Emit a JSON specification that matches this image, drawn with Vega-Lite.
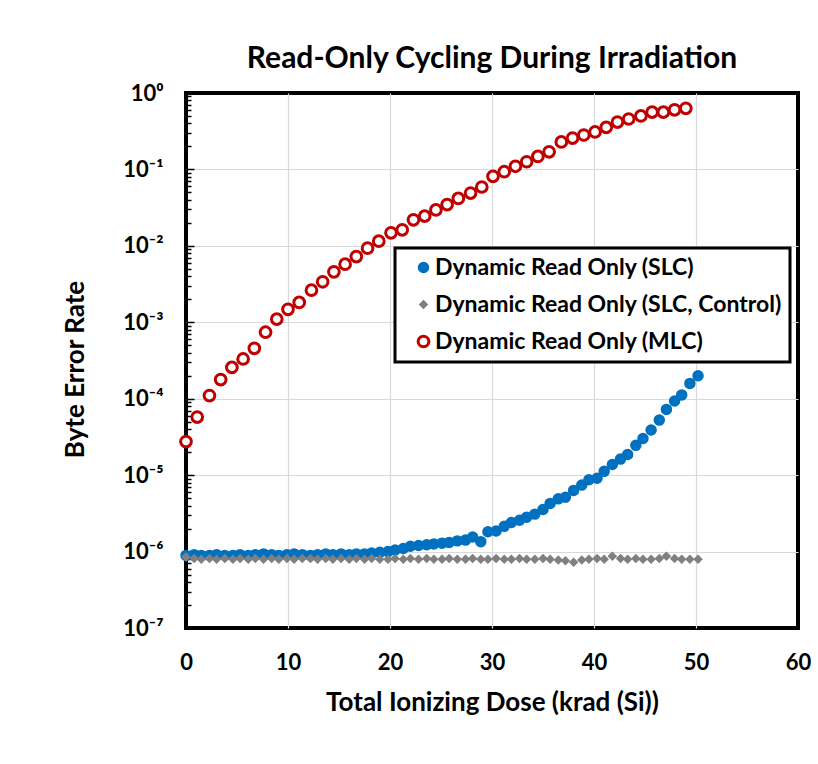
{
  "$schema": "https://vega.github.io/schema/vega-lite/v6.json",
  "width": 612,
  "height": 535,
  "autosize": {"type": "none"},
  "padding": {"left": 186, "top": 93, "right": 20, "bottom": 136},
  "background": "white",
  "title": {
    "text": "Read-Only Cycling During Irradiation",
    "font": "Lato", "fontSize": 30, "fontWeight": "bold", "color": "black",
    "anchor": "middle", "offset": 8
  },
  "view": {"stroke": "black", "strokeWidth": 4},
  "config": {
    "view": {"stroke": "black", "strokeWidth": 4},
    "font": "Lato",
    "legend": {"strokeWidth": 3}
  },
  "datasets": {
    "points": [
      {"x": 0.0, "y": 8.91e-7, "series": "Dynamic Read Only (SLC)"},
      {"x": 0.8, "y": 9.12e-7, "series": "Dynamic Read Only (SLC)"},
      {"x": 1.5, "y": 8.91e-7, "series": "Dynamic Read Only (SLC)"},
      {"x": 2.3, "y": 8.91e-7, "series": "Dynamic Read Only (SLC)"},
      {"x": 3.0, "y": 9.12e-7, "series": "Dynamic Read Only (SLC)"},
      {"x": 3.8, "y": 8.91e-7, "series": "Dynamic Read Only (SLC)"},
      {"x": 4.6, "y": 8.91e-7, "series": "Dynamic Read Only (SLC)"},
      {"x": 5.3, "y": 9.12e-7, "series": "Dynamic Read Only (SLC)"},
      {"x": 6.1, "y": 8.91e-7, "series": "Dynamic Read Only (SLC)"},
      {"x": 6.8, "y": 9.12e-7, "series": "Dynamic Read Only (SLC)"},
      {"x": 7.6, "y": 9.33e-7, "series": "Dynamic Read Only (SLC)"},
      {"x": 8.4, "y": 9.12e-7, "series": "Dynamic Read Only (SLC)"},
      {"x": 9.1, "y": 8.91e-7, "series": "Dynamic Read Only (SLC)"},
      {"x": 9.9, "y": 9.12e-7, "series": "Dynamic Read Only (SLC)"},
      {"x": 10.6, "y": 9.33e-7, "series": "Dynamic Read Only (SLC)"},
      {"x": 11.4, "y": 9.12e-7, "series": "Dynamic Read Only (SLC)"},
      {"x": 12.2, "y": 8.91e-7, "series": "Dynamic Read Only (SLC)"},
      {"x": 12.9, "y": 9.12e-7, "series": "Dynamic Read Only (SLC)"},
      {"x": 13.7, "y": 9.33e-7, "series": "Dynamic Read Only (SLC)"},
      {"x": 14.4, "y": 9.12e-7, "series": "Dynamic Read Only (SLC)"},
      {"x": 15.2, "y": 9.33e-7, "series": "Dynamic Read Only (SLC)"},
      {"x": 16.0, "y": 9.12e-7, "series": "Dynamic Read Only (SLC)"},
      {"x": 16.7, "y": 9.33e-7, "series": "Dynamic Read Only (SLC)"},
      {"x": 17.5, "y": 9.33e-7, "series": "Dynamic Read Only (SLC)"},
      {"x": 18.2, "y": 9.55e-7, "series": "Dynamic Read Only (SLC)"},
      {"x": 19.0, "y": 9.77e-7, "series": "Dynamic Read Only (SLC)"},
      {"x": 19.8, "y": 1.0e-6, "series": "Dynamic Read Only (SLC)"},
      {"x": 20.5, "y": 1.047e-6, "series": "Dynamic Read Only (SLC)"},
      {"x": 21.3, "y": 1.096e-6, "series": "Dynamic Read Only (SLC)"},
      {"x": 22.0, "y": 1.175e-6, "series": "Dynamic Read Only (SLC)"},
      {"x": 22.8, "y": 1.202e-6, "series": "Dynamic Read Only (SLC)"},
      {"x": 23.6, "y": 1.23e-6, "series": "Dynamic Read Only (SLC)"},
      {"x": 24.3, "y": 1.259e-6, "series": "Dynamic Read Only (SLC)"},
      {"x": 25.1, "y": 1.288e-6, "series": "Dynamic Read Only (SLC)"},
      {"x": 25.8, "y": 1.318e-6, "series": "Dynamic Read Only (SLC)"},
      {"x": 26.6, "y": 1.38e-6, "series": "Dynamic Read Only (SLC)"},
      {"x": 27.4, "y": 1.413e-6, "series": "Dynamic Read Only (SLC)"},
      {"x": 28.1, "y": 1.549e-6, "series": "Dynamic Read Only (SLC)"},
      {"x": 28.9, "y": 1.349e-6, "series": "Dynamic Read Only (SLC)"},
      {"x": 29.6, "y": 1.82e-6, "series": "Dynamic Read Only (SLC)"},
      {"x": 30.4, "y": 1.862e-6, "series": "Dynamic Read Only (SLC)"},
      {"x": 31.2, "y": 2.138e-6, "series": "Dynamic Read Only (SLC)"},
      {"x": 31.9, "y": 2.399e-6, "series": "Dynamic Read Only (SLC)"},
      {"x": 32.7, "y": 2.57e-6, "series": "Dynamic Read Only (SLC)"},
      {"x": 33.4, "y": 2.818e-6, "series": "Dynamic Read Only (SLC)"},
      {"x": 34.2, "y": 3.09e-6, "series": "Dynamic Read Only (SLC)"},
      {"x": 35.0, "y": 3.548e-6, "series": "Dynamic Read Only (SLC)"},
      {"x": 35.7, "y": 4.266e-6, "series": "Dynamic Read Only (SLC)"},
      {"x": 36.5, "y": 4.898e-6, "series": "Dynamic Read Only (SLC)"},
      {"x": 37.2, "y": 5.129e-6, "series": "Dynamic Read Only (SLC)"},
      {"x": 38.0, "y": 6.31e-6, "series": "Dynamic Read Only (SLC)"},
      {"x": 38.8, "y": 7.413e-6, "series": "Dynamic Read Only (SLC)"},
      {"x": 39.5, "y": 8.71e-6, "series": "Dynamic Read Only (SLC)"},
      {"x": 40.3, "y": 9.12e-6, "series": "Dynamic Read Only (SLC)"},
      {"x": 41.0, "y": 1.122e-5, "series": "Dynamic Read Only (SLC)"},
      {"x": 41.8, "y": 1.38e-5, "series": "Dynamic Read Only (SLC)"},
      {"x": 42.6, "y": 1.622e-5, "series": "Dynamic Read Only (SLC)"},
      {"x": 43.3, "y": 1.862e-5, "series": "Dynamic Read Only (SLC)"},
      {"x": 44.1, "y": 2.455e-5, "series": "Dynamic Read Only (SLC)"},
      {"x": 44.8, "y": 3.02e-5, "series": "Dynamic Read Only (SLC)"},
      {"x": 45.6, "y": 3.89e-5, "series": "Dynamic Read Only (SLC)"},
      {"x": 46.4, "y": 5.248e-5, "series": "Dynamic Read Only (SLC)"},
      {"x": 47.1, "y": 7.244e-5, "series": "Dynamic Read Only (SLC)"},
      {"x": 47.9, "y": 9.333e-5, "series": "Dynamic Read Only (SLC)"},
      {"x": 48.6, "y": 1.122e-4, "series": "Dynamic Read Only (SLC)"},
      {"x": 49.4, "y": 1.585e-4, "series": "Dynamic Read Only (SLC)"},
      {"x": 50.2, "y": 1.995e-4, "series": "Dynamic Read Only (SLC)"},

      {"x": 0.0, "y": 8.51e-7, "series": "Dynamic Read Only (SLC, Control)"},
      {"x": 0.8, "y": 8.13e-7, "series": "Dynamic Read Only (SLC, Control)"},
      {"x": 1.5, "y": 7.94e-7, "series": "Dynamic Read Only (SLC, Control)"},
      {"x": 2.3, "y": 8.13e-7, "series": "Dynamic Read Only (SLC, Control)"},
      {"x": 3.0, "y": 7.94e-7, "series": "Dynamic Read Only (SLC, Control)"},
      {"x": 3.8, "y": 8.13e-7, "series": "Dynamic Read Only (SLC, Control)"},
      {"x": 4.6, "y": 7.94e-7, "series": "Dynamic Read Only (SLC, Control)"},
      {"x": 5.3, "y": 8.13e-7, "series": "Dynamic Read Only (SLC, Control)"},
      {"x": 6.1, "y": 7.94e-7, "series": "Dynamic Read Only (SLC, Control)"},
      {"x": 6.8, "y": 8.13e-7, "series": "Dynamic Read Only (SLC, Control)"},
      {"x": 7.6, "y": 7.94e-7, "series": "Dynamic Read Only (SLC, Control)"},
      {"x": 8.4, "y": 8.13e-7, "series": "Dynamic Read Only (SLC, Control)"},
      {"x": 9.1, "y": 7.94e-7, "series": "Dynamic Read Only (SLC, Control)"},
      {"x": 9.9, "y": 8.13e-7, "series": "Dynamic Read Only (SLC, Control)"},
      {"x": 10.6, "y": 7.94e-7, "series": "Dynamic Read Only (SLC, Control)"},
      {"x": 11.4, "y": 8.13e-7, "series": "Dynamic Read Only (SLC, Control)"},
      {"x": 12.2, "y": 8.13e-7, "series": "Dynamic Read Only (SLC, Control)"},
      {"x": 12.9, "y": 7.94e-7, "series": "Dynamic Read Only (SLC, Control)"},
      {"x": 13.7, "y": 8.13e-7, "series": "Dynamic Read Only (SLC, Control)"},
      {"x": 14.4, "y": 7.94e-7, "series": "Dynamic Read Only (SLC, Control)"},
      {"x": 15.2, "y": 8.13e-7, "series": "Dynamic Read Only (SLC, Control)"},
      {"x": 16.0, "y": 7.94e-7, "series": "Dynamic Read Only (SLC, Control)"},
      {"x": 16.7, "y": 8.13e-7, "series": "Dynamic Read Only (SLC, Control)"},
      {"x": 17.5, "y": 7.94e-7, "series": "Dynamic Read Only (SLC, Control)"},
      {"x": 18.2, "y": 8.13e-7, "series": "Dynamic Read Only (SLC, Control)"},
      {"x": 19.0, "y": 7.94e-7, "series": "Dynamic Read Only (SLC, Control)"},
      {"x": 19.8, "y": 7.94e-7, "series": "Dynamic Read Only (SLC, Control)"},
      {"x": 20.5, "y": 8.13e-7, "series": "Dynamic Read Only (SLC, Control)"},
      {"x": 21.3, "y": 7.94e-7, "series": "Dynamic Read Only (SLC, Control)"},
      {"x": 22.0, "y": 8.13e-7, "series": "Dynamic Read Only (SLC, Control)"},
      {"x": 22.8, "y": 7.94e-7, "series": "Dynamic Read Only (SLC, Control)"},
      {"x": 23.6, "y": 8.13e-7, "series": "Dynamic Read Only (SLC, Control)"},
      {"x": 24.3, "y": 7.94e-7, "series": "Dynamic Read Only (SLC, Control)"},
      {"x": 25.1, "y": 7.94e-7, "series": "Dynamic Read Only (SLC, Control)"},
      {"x": 25.8, "y": 8.13e-7, "series": "Dynamic Read Only (SLC, Control)"},
      {"x": 26.6, "y": 7.94e-7, "series": "Dynamic Read Only (SLC, Control)"},
      {"x": 27.4, "y": 7.94e-7, "series": "Dynamic Read Only (SLC, Control)"},
      {"x": 28.1, "y": 8.13e-7, "series": "Dynamic Read Only (SLC, Control)"},
      {"x": 28.9, "y": 7.94e-7, "series": "Dynamic Read Only (SLC, Control)"},
      {"x": 29.6, "y": 7.94e-7, "series": "Dynamic Read Only (SLC, Control)"},
      {"x": 30.4, "y": 8.13e-7, "series": "Dynamic Read Only (SLC, Control)"},
      {"x": 31.2, "y": 7.94e-7, "series": "Dynamic Read Only (SLC, Control)"},
      {"x": 31.9, "y": 7.94e-7, "series": "Dynamic Read Only (SLC, Control)"},
      {"x": 32.7, "y": 8.13e-7, "series": "Dynamic Read Only (SLC, Control)"},
      {"x": 33.4, "y": 7.94e-7, "series": "Dynamic Read Only (SLC, Control)"},
      {"x": 34.2, "y": 7.94e-7, "series": "Dynamic Read Only (SLC, Control)"},
      {"x": 35.0, "y": 8.13e-7, "series": "Dynamic Read Only (SLC, Control)"},
      {"x": 35.7, "y": 7.94e-7, "series": "Dynamic Read Only (SLC, Control)"},
      {"x": 36.5, "y": 7.76e-7, "series": "Dynamic Read Only (SLC, Control)"},
      {"x": 37.2, "y": 7.59e-7, "series": "Dynamic Read Only (SLC, Control)"},
      {"x": 38.0, "y": 7.24e-7, "series": "Dynamic Read Only (SLC, Control)"},
      {"x": 38.8, "y": 7.76e-7, "series": "Dynamic Read Only (SLC, Control)"},
      {"x": 39.5, "y": 7.94e-7, "series": "Dynamic Read Only (SLC, Control)"},
      {"x": 40.3, "y": 8.13e-7, "series": "Dynamic Read Only (SLC, Control)"},
      {"x": 41.0, "y": 7.94e-7, "series": "Dynamic Read Only (SLC, Control)"},
      {"x": 41.8, "y": 8.71e-7, "series": "Dynamic Read Only (SLC, Control)"},
      {"x": 42.6, "y": 8.13e-7, "series": "Dynamic Read Only (SLC, Control)"},
      {"x": 43.3, "y": 7.94e-7, "series": "Dynamic Read Only (SLC, Control)"},
      {"x": 44.1, "y": 8.13e-7, "series": "Dynamic Read Only (SLC, Control)"},
      {"x": 44.8, "y": 7.94e-7, "series": "Dynamic Read Only (SLC, Control)"},
      {"x": 45.6, "y": 7.94e-7, "series": "Dynamic Read Only (SLC, Control)"},
      {"x": 46.4, "y": 8.13e-7, "series": "Dynamic Read Only (SLC, Control)"},
      {"x": 47.1, "y": 8.71e-7, "series": "Dynamic Read Only (SLC, Control)"},
      {"x": 47.9, "y": 8.13e-7, "series": "Dynamic Read Only (SLC, Control)"},
      {"x": 48.6, "y": 7.94e-7, "series": "Dynamic Read Only (SLC, Control)"},
      {"x": 49.4, "y": 7.94e-7, "series": "Dynamic Read Only (SLC, Control)"},
      {"x": 50.2, "y": 7.94e-7, "series": "Dynamic Read Only (SLC, Control)"},

      {"x": 0.0, "y": 2.75e-5, "series": "Dynamic Read Only (MLC)"},
      {"x": 1.1, "y": 5.75e-5, "series": "Dynamic Read Only (MLC)"},
      {"x": 2.3, "y": 1.10e-4, "series": "Dynamic Read Only (MLC)"},
      {"x": 3.4, "y": 1.78e-4, "series": "Dynamic Read Only (MLC)"},
      {"x": 4.5, "y": 2.57e-4, "series": "Dynamic Read Only (MLC)"},
      {"x": 5.6, "y": 3.31e-4, "series": "Dynamic Read Only (MLC)"},
      {"x": 6.7, "y": 4.57e-4, "series": "Dynamic Read Only (MLC)"},
      {"x": 7.8, "y": 7.41e-4, "series": "Dynamic Read Only (MLC)"},
      {"x": 8.9, "y": 1.10e-3, "series": "Dynamic Read Only (MLC)"},
      {"x": 10.0, "y": 1.48e-3, "series": "Dynamic Read Only (MLC)"},
      {"x": 11.1, "y": 1.82e-3, "series": "Dynamic Read Only (MLC)"},
      {"x": 12.3, "y": 2.63e-3, "series": "Dynamic Read Only (MLC)"},
      {"x": 13.4, "y": 3.39e-3, "series": "Dynamic Read Only (MLC)"},
      {"x": 14.5, "y": 4.57e-3, "series": "Dynamic Read Only (MLC)"},
      {"x": 15.6, "y": 5.75e-3, "series": "Dynamic Read Only (MLC)"},
      {"x": 16.7, "y": 7.24e-3, "series": "Dynamic Read Only (MLC)"},
      {"x": 17.8, "y": 9.33e-3, "series": "Dynamic Read Only (MLC)"},
      {"x": 18.9, "y": 0.0115, "series": "Dynamic Read Only (MLC)"},
      {"x": 20.1, "y": 0.0148, "series": "Dynamic Read Only (MLC)"},
      {"x": 21.2, "y": 0.0162, "series": "Dynamic Read Only (MLC)"},
      {"x": 22.3, "y": 0.0219, "series": "Dynamic Read Only (MLC)"},
      {"x": 23.4, "y": 0.0245, "series": "Dynamic Read Only (MLC)"},
      {"x": 24.5, "y": 0.0295, "series": "Dynamic Read Only (MLC)"},
      {"x": 25.6, "y": 0.0347, "series": "Dynamic Read Only (MLC)"},
      {"x": 26.7, "y": 0.0417, "series": "Dynamic Read Only (MLC)"},
      {"x": 27.9, "y": 0.049, "series": "Dynamic Read Only (MLC)"},
      {"x": 29.0, "y": 0.0589, "series": "Dynamic Read Only (MLC)"},
      {"x": 30.1, "y": 0.0813, "series": "Dynamic Read Only (MLC)"},
      {"x": 31.2, "y": 0.0933, "series": "Dynamic Read Only (MLC)"},
      {"x": 32.3, "y": 0.110, "series": "Dynamic Read Only (MLC)"},
      {"x": 33.4, "y": 0.126, "series": "Dynamic Read Only (MLC)"},
      {"x": 34.5, "y": 0.148, "series": "Dynamic Read Only (MLC)"},
      {"x": 35.6, "y": 0.170, "series": "Dynamic Read Only (MLC)"},
      {"x": 36.8, "y": 0.229, "series": "Dynamic Read Only (MLC)"},
      {"x": 37.9, "y": 0.257, "series": "Dynamic Read Only (MLC)"},
      {"x": 39.0, "y": 0.282, "series": "Dynamic Read Only (MLC)"},
      {"x": 40.1, "y": 0.309, "series": "Dynamic Read Only (MLC)"},
      {"x": 41.2, "y": 0.355, "series": "Dynamic Read Only (MLC)"},
      {"x": 42.3, "y": 0.417, "series": "Dynamic Read Only (MLC)"},
      {"x": 43.4, "y": 0.457, "series": "Dynamic Read Only (MLC)"},
      {"x": 44.6, "y": 0.501, "series": "Dynamic Read Only (MLC)"},
      {"x": 45.7, "y": 0.562, "series": "Dynamic Read Only (MLC)"},
      {"x": 46.8, "y": 0.562, "series": "Dynamic Read Only (MLC)"},
      {"x": 47.9, "y": 0.603, "series": "Dynamic Read Only (MLC)"},
      {"x": 49.0, "y": 0.631, "series": "Dynamic Read Only (MLC)"}
    ]
  },
  "data": {"name": "points"},
  "layer": [
    {
      "mark": {"type": "point", "strokeWidth": 3, "opacity": 1},
      "encoding": {
        "x": {
          "field": "x", "type": "quantitative",
          "scale": {"domain": [0, 60], "nice": false},
          "axis": {
            "values": [0, 10, 20, 30, 40, 50, 60],
            "title": "Total Ionizing Dose (krad (Si))",
            "titleFont": "Lato", "titleFontSize": 26, "titleFontWeight": "bold", "titleColor": "black",
            "titlePadding": 16,
            "labelFont": "Lato", "labelFontSize": 22, "labelFontWeight": "bold", "labelColor": "black",
            "labelPadding": 24, "labelFlush": false,
            "ticks": false, "domain": false,
            "grid": true, "gridColor": "#d9d9d9", "gridWidth": 1.2,
            "gridOpacity": {"condition": {"test": "datum.value <= 0 || datum.value >= 60", "value": 0}, "value": 1}
          }
        },
        "y": {
          "field": "y", "type": "quantitative",
          "scale": {"type": "log", "domain": [1e-7, 1], "nice": false},
          "axis": {
            "orient": "left",
            "values": [1e-7, 1e-6, 1e-5, 1e-4, 1e-3, 1e-2, 1e-1, 1],
            "labelExpr": "'10' + (datum.value >= 0.5 ? '⁰' : '⁻' + ['', '¹', '²', '³', '⁴', '⁵', '⁶', '⁷'][round(-log(datum.value) / LN10)])",
            "title": "Byte Error Rate",
            "titleFont": "Lato", "titleFontSize": 26, "titleFontWeight": "bold", "titleColor": "black",
            "titlePadding": 34, "titleY": 276,
            "labelFont": "Lato", "labelFontSize": 22, "labelFontWeight": "bold", "labelColor": "black",
            "labelPadding": 31, "labelFlush": false,
            "domain": false,
            "ticks": true, "tickSize": -8, "tickColor": "black", "tickWidth": 1.5,
            "grid": true, "gridColor": "#d9d9d9", "gridWidth": 1.2,
            "gridOpacity": {"condition": {"test": "datum.value <= 1.01e-7 || datum.value >= 0.99", "value": 0}, "value": 1}
          }
        },
        "fill": {
          "field": "series", "type": "nominal",
          "scale": {
            "domain": ["Dynamic Read Only (SLC)", "Dynamic Read Only (SLC, Control)", "Dynamic Read Only (MLC)"],
            "range": ["#0070C0", "#808080", "#ffffff"]
          },
          "legend": {
            "orient": "none", "legendX": 209, "legendY": 155,
            "title": null,
            "fillColor": "white", "strokeColor": "black",
            "padding": 8, "rowPadding": 13,
            "labelFont": "Lato", "labelFontSize": 23, "labelFontWeight": "bold", "labelColor": "black",
            "labelLimit": 600, "labelOffset": 0, "symbolOffset": 9,
            "symbolStrokeWidth": 3,
            "encode": {"legend": {"strokeWidth": {"value": 3}}}
          }
        },
        "stroke": {
          "field": "series", "type": "nominal",
          "scale": {
            "domain": ["Dynamic Read Only (SLC)", "Dynamic Read Only (SLC, Control)", "Dynamic Read Only (MLC)"],
            "range": ["#0070C0", "#808080", "#C00000"]
          }
        },
        "shape": {
          "field": "series", "type": "nominal",
          "scale": {
            "domain": ["Dynamic Read Only (SLC)", "Dynamic Read Only (SLC, Control)", "Dynamic Read Only (MLC)"],
            "range": ["circle", "diamond", "circle"]
          }
        },
        "size": {
          "field": "series", "type": "nominal",
          "scale": {
            "type": "ordinal",
            "domain": ["Dynamic Read Only (SLC)", "Dynamic Read Only (SLC, Control)", "Dynamic Read Only (MLC)"],
            "range": [72, 28, 115]
          }
        }
      }
    },
    {
      "mark": {"type": "point", "opacity": 0},
      "encoding": {
        "y": {
          "field": "y", "type": "quantitative",
          "axis": {
            "orient": "left",
            "values": [
              2e-7, 3e-7, 4e-7, 5e-7, 6e-7, 7e-7, 8e-7, 9e-7,
              2e-6, 3e-6, 4e-6, 5e-6, 6e-6, 7e-6, 8e-6, 9e-6,
              2e-5, 3e-5, 4e-5, 5e-5, 6e-5, 7e-5, 8e-5, 9e-5,
              2e-4, 3e-4, 4e-4, 5e-4, 6e-4, 7e-4, 8e-4, 9e-4,
              2e-3, 3e-3, 4e-3, 5e-3, 6e-3, 7e-3, 8e-3, 9e-3,
              0.02, 0.03, 0.04, 0.05, 0.06, 0.07, 0.08, 0.09,
              0.2, 0.3, 0.4, 0.5, 0.6, 0.7, 0.8, 0.9
            ],
            "labels": false, "grid": false, "domain": false, "title": null,
            "ticks": true, "tickSize": -5, "tickColor": "black", "tickWidth": 1.5
          }
        }
      }
    }
  ],
  "resolve": {"axis": {"y": "independent"}}
}
